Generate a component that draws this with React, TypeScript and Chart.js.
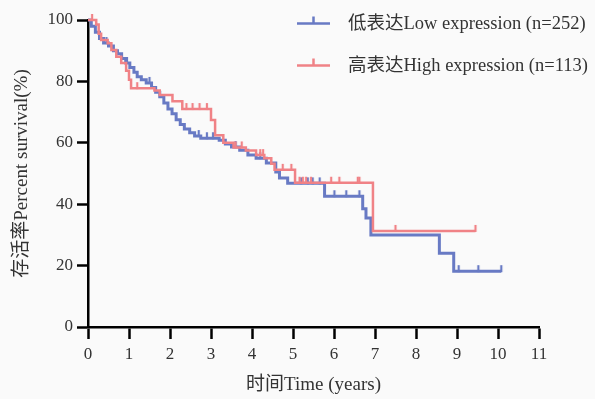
import React, { useEffect, useRef } from "react";
import { Chart, registerables } from "chart.js";

Chart.register(...registerables);

// ---- data ----
const lowTimes = [0, 0.08, 0.18, 0.28, 0.38, 0.5, 0.62, 0.72, 0.82, 0.92, 1.02, 1.12, 1.2, 1.3, 1.42, 1.55, 1.65, 1.75, 1.85, 1.95, 2.05, 2.15, 2.25, 2.35, 2.48, 2.6, 2.75, 3.2, 3.35, 3.5, 3.7, 3.9, 4.1, 4.35, 4.58, 4.67, 4.87, 5.77, 6.7, 6.78, 6.9, 8.57, 8.92, 10.08];
const lowSurvival = [100, 98, 96, 94, 92.5, 91.5, 90, 89, 87.5, 86, 84.5, 83, 81.5, 80.5, 79.5, 78, 76.5, 75, 73, 71, 69.5, 67.5, 66, 64.5, 63.3, 62.2, 61.5, 60.8, 59.6, 58.6, 57.6, 56, 55, 53.4, 50.5, 48.5, 46.8, 42.6, 38.5, 35.5, 30, 24, 18.2, 18.2];
const lowCensorTimes = [0.45, 0.95, 1.5, 2.7, 2.9, 3.05, 3.6, 4.2, 5.2, 5.36, 5.48, 5.65, 6.01, 6.3, 6.62, 9.04, 9.52, 10.08];

const highTimes = [0, 0.2, 0.26, 0.32, 0.48, 0.57, 0.69, 0.81, 0.93, 1.0, 1.05, 1.62, 1.75, 2.06, 2.3, 3.0, 3.1, 3.3, 3.55, 3.85, 4.1, 4.3, 4.47, 4.55, 5.05, 6.95, 9.45];
const highSurvival = [100, 98.5, 95.5, 93.5, 92.4, 90.2, 88, 86, 83.5, 80.5, 77.8, 77, 75.6, 73.5, 71, 67.4, 62.5, 60, 58.5, 57.5, 56, 55, 53.2, 51.2, 47, 31.3, 31.3];
const highCensorTimes = [0.1, 1.2, 2.4, 2.55, 2.72, 2.9, 3.6, 3.75, 4.2, 4.27, 4.75, 4.96, 5.16, 5.24, 5.32, 5.44, 5.93, 6.13, 6.58, 6.62, 7.5, 9.45];

const xTickValues = [0, 1, 2, 3, 4, 5, 6, 7, 8, 9, 10, 11];
const yTickValues = [0, 20, 40, 60, 80, 100];

const lowLabel = "低表达Low expression (n=252)";
const highLabel = "高表达High expression (n=113)";
const xTitle = "时间Time (years)";
const yTitle = "存活率Percent survival(%)";

// ---- styles ----
const lowColor = "rgb(104,122,196)";
const highColor = "rgb(240,130,134)";
const serif = "'Times New Roman', 'Liberation Serif', 'Noto Sans CJK SC', serif";
const textColor = "#333333";

function stepValue(times: number[], vals: number[], t: number) {
  let v = vals[0];
  for (let i = 0; i < times.length; i++) if (times[i] <= t) v = vals[i];
  return v;
}

function makeTick(color: string, lw: number, h: number) {
  const c = document.createElement("canvas");
  c.width = 6;
  c.height = h * 2;
  const ctx = c.getContext("2d")!;
  ctx.strokeStyle = color;
  ctx.lineWidth = lw;
  ctx.beginPath();
  ctx.moveTo(3, 1);
  ctx.lineTo(3, h + 1);
  ctx.stroke();
  return c;
}

const legendPlugin = {
  id: "kmLegend",
  afterDraw(chart: any) {
    const { ctx, chartArea } = chart;
    const items = [
      { label: lowLabel, color: lowColor },
      { label: highLabel, color: highColor },
    ];
    items.forEach((it, i) => {
      const y = chartArea.top + 3.5 + i * 42;
      const x0 = chartArea.left + 209;
      ctx.save();
      ctx.strokeStyle = it.color;
      ctx.lineWidth = 2.5;
      ctx.beginPath();
      ctx.moveTo(x0, y);
      ctx.lineTo(x0 + 33, y);
      ctx.moveTo(x0 + 16.5, y);
      ctx.lineTo(x0 + 16.5, y - 7);
      ctx.stroke();
      ctx.fillStyle = textColor;
      ctx.font = `18.5px ${serif}`;
      ctx.textBaseline = "middle";
      ctx.textAlign = "left";
      ctx.fillText(it.label, x0 + 51, y + 1);
      ctx.restore();
    });
  },
};

export default function App() {
  const ref = useRef<HTMLCanvasElement>(null);

  useEffect(() => {
    document.body.style.margin = "0";
    document.body.style.background = "#fafafa";
    const canvas = ref.current!;
    const lowData = lowTimes.map((t, i) => ({ x: t, y: lowSurvival[i] }));
    const highData = highTimes.map((t, i) => ({ x: t, y: highSurvival[i] }));
    const lowCensor = lowCensorTimes.map((t) => ({ x: t, y: stepValue(lowTimes, lowSurvival, t) }));
    const highCensor = highCensorTimes.map((t) => ({ x: t, y: stepValue(highTimes, highSurvival, t) }));

    const chart = new Chart(canvas, {
      type: "line",
      data: {
        datasets: [
          {
            label: highLabel,
            data: highData,
            borderColor: highColor,
            borderWidth: 2.5,
            stepped: true,
            pointRadius: 0,
            fill: false,
            clip: false,
            order: 1,
          } as any,
          {
            label: highLabel + " censored",
            data: highCensor,
            showLine: false,
            pointStyle: makeTick(highColor, 2.2, 7),
            pointRadius: 4,
            clip: false,
            order: 0,
          } as any,
          {
            label: lowLabel,
            data: lowData,
            borderColor: lowColor,
            borderWidth: 3,
            stepped: true,
            pointRadius: 0,
            fill: false,
            clip: false,
            order: 3,
          } as any,
          {
            label: lowLabel + " censored",
            data: lowCensor,
            showLine: false,
            pointStyle: makeTick(lowColor, 2.2, 7),
            pointRadius: 4,
            clip: false,
            order: 2,
          } as any,
        ],
      },
      options: {
        responsive: false,
        animation: false,
        layout: { padding: { top: 20, right: 56, left: 0, bottom: 0 } },
        plugins: {
          legend: { display: false },
          tooltip: { enabled: false },
        },
        scales: {
          x: {
            type: "linear",
            min: 0,
            max: 11,
            afterFit: (s: any) => {
              s.height = 72;
            },
            afterBuildTicks: (s: any) => {
              s.ticks = xTickValues.map((v) => ({ value: v }));
            },
            border: { display: true, color: "#000", width: 2.5 },
            grid: {
              display: true,
              drawOnChartArea: false,
              drawTicks: true,
              tickLength: 12,
              tickWidth: 2.5,
              tickColor: "#000",
            },
            ticks: {
              color: textColor,
              font: { family: serif, size: 17 },
              padding: 5,
              maxRotation: 0,
            },
            title: {
              display: true,
              text: xTitle,
              color: textColor,
              font: { family: serif, size: 19 },
              padding: { top: 0, bottom: 3 },
            },
          },
          y: {
            type: "linear",
            min: 0,
            max: 100,
            afterFit: (s: any) => {
              s.width = 88;
            },
            afterBuildTicks: (s: any) => {
              s.ticks = yTickValues.map((v) => ({ value: v }));
            },
            border: { display: true, color: "#000", width: 2.5 },
            grid: {
              display: true,
              drawOnChartArea: false,
              drawTicks: true,
              tickLength: 11,
              tickWidth: 2.5,
              tickColor: "#000",
            },
            ticks: {
              color: textColor,
              font: { family: serif, size: 17 },
              padding: 4,
            },
            title: {
              display: true,
              text: yTitle,
              color: textColor,
              font: { family: serif, size: 19 },
              padding: { top: 11, bottom: 0 },
            },
          },
        },
      },
      plugins: [legendPlugin],
    });
    return () => chart.destroy();
  }, []);

  return (
    <div style={{ width: 595, height: 399, background: "#fafafa" }}>
      <canvas ref={ref} width={595} height={399} />
    </div>
  );
}
